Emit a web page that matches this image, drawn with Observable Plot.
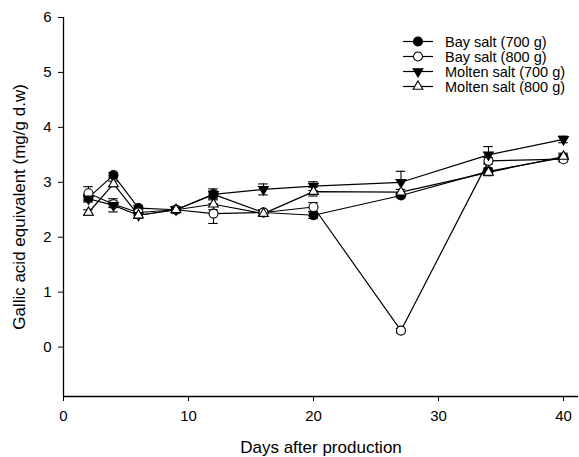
<!DOCTYPE html>
<html><head><meta charset="utf-8">
<script src="https://cdn.jsdelivr.net/npm/d3@7"></script>
<script src="https://cdn.jsdelivr.net/npm/@observablehq/plot@0.6"></script>
<style>
body{margin:0;background:#fff;}
#wrap{position:relative;width:579px;height:457px;font-family:"Liberation Sans",Arial,sans-serif;}
#legend{position:absolute;left:403px;top:34px;font-size:14.5px;color:#000;}
.row{display:flex;align-items:center;height:15px;white-space:nowrap;}
.row svg{margin-right:12px;flex:none;}
g[aria-label="x-axis label"] text, g[aria-label="y-axis label"] text{font-size:17px;}
</style></head><body><div id="wrap"><div id="legend"></div></div>
<script>
const days = [2, 4, 6, 9, 12, 16, 20, 27, 34, 40];
const seriesNames = ["Bay salt (700 g)", "Bay salt (800 g)", "Molten salt (700 g)", "Molten salt (800 g)"];
const bay700 = [2.72, 3.13, 2.53, 2.50, 2.78, 2.45, 2.40, 2.76, 3.20, 3.45];
const bay800 = [2.80, 2.60, 2.45, 2.50, 2.43, 2.45, 2.55, 0.30, 3.39, 3.42];
const molten700 = [2.70, 2.58, 2.40, 2.50, 2.78, 2.87, 2.93, 3.00, 3.50, 3.78];
const molten800 = [2.45, 2.97, 2.40, 2.50, 2.60, 2.43, 2.83, 2.82, 3.18, 3.47];
const bay700Err = [0.06, 0.05, 0.05, 0.05, 0.06, 0.05, 0.06, 0.04, 0.06, 0.05];
const bay800Err = [0.12, 0.06, 0.05, 0.05, 0.18, 0.05, 0.08, 0.04, 0.06, 0.05];
const molten700Err = [0.06, 0.12, 0.05, 0.06, 0.10, 0.10, 0.08, 0.20, 0.15, 0.06];
const molten800Err = [0.05, 0.05, 0.05, 0.05, 0.10, 0.05, 0.08, 0.05, 0.06, 0.06];
const xTicks = [0, 10, 20, 30, 40];
const yTicks = [0, 1, 2, 3, 4, 5, 6];
const xDomain = [0, 41.2];
const yDomain = [-0.9, 6];

const values = [bay700, bay800, molten700, molten800];
const errs = [bay700Err, bay800Err, molten700Err, molten800Err];
const styles = [
  {symbol: "circle", fill: "black", r: 4.5, rotate: 0},
  {symbol: "circle", fill: "white", r: 4.5, rotate: 0},
  {symbol: "triangle", fill: "black", r: 3.6, rotate: 180},
  {symbol: "triangle", fill: "white", r: 3.6, rotate: 0}
];
const data = [];
seriesNames.forEach((s, i) => days.forEach((d, j) => data.push({series: s, idx: i, day: d, value: values[i][j], err: errs[i][j]})));

const dotMarks = styles.map((st, i) => Plot.dot(data.filter(d => d.idx === i), {
  x: "day", y: "value", symbol: st.symbol, r: st.r, rotate: st.rotate,
  fill: st.fill, stroke: "black", strokeWidth: 1.1
}));

const chart = Plot.plot({
  width: 579, height: 457,
  marginLeft: 63, marginRight: 1, marginTop: 17, marginBottom: 61,
  style: {fontFamily: "Liberation Sans, Arial, sans-serif", fontSize: "15px", color: "#000", background: "white"},
  x: {domain: xDomain, label: null},
  y: {domain: yDomain, label: null},
  marks: [
    Plot.axisX({ticks: xTicks, tickFormat: "d", tickSize: 5, tickPadding: 9, label: "Days after production", labelArrow: "none", labelAnchor: "center", labelOffset: 56}),
    Plot.axisY({ticks: yTicks, tickFormat: "d", tickSize: 5, tickPadding: 7, label: "Gallic acid equivalent (mg/g d.w)", labelArrow: "none", labelAnchor: "center", labelOffset: 51}),
    Plot.ruleX([xDomain[0]], {stroke: "black", strokeWidth: 1.3}),
    Plot.ruleY([yDomain[0]], {stroke: "black", strokeWidth: 1.3}),
    Plot.line(data, {x: "day", y: "value", z: "series", stroke: "black", strokeWidth: 1.2}),
    Plot.ruleX(data, {x: "day", y1: d => d.value - d.err, y2: d => d.value + d.err, stroke: "black", strokeWidth: 1.1}),
    Plot.ruleY(data, {y: d => d.value - d.err, x1: d => d.day - 0.38, x2: d => d.day + 0.38, stroke: "black", strokeWidth: 1.1}),
    Plot.ruleY(data, {y: d => d.value + d.err, x1: d => d.day - 0.38, x2: d => d.day + 0.38, stroke: "black", strokeWidth: 1.1}),
    ...dotMarks
  ]
});
document.getElementById("wrap").prepend(chart);

const legend = document.getElementById("legend");
seriesNames.forEach((s, i) => {
  const st = styles[i];
  const row = document.createElement("div");
  row.className = "row";
  const svg = d3.create("svg").attr("width", 30).attr("height", 15);
  svg.append("line").attr("x1", 0).attr("x2", 30).attr("y1", 7.5).attr("y2", 7.5).attr("stroke", "black").attr("stroke-width", 1.2);
  const type = st.symbol === "circle" ? d3.symbolCircle : d3.symbolTriangle;
  svg.append("path").attr("d", d3.symbol(type, Math.PI * st.r * st.r)())
    .attr("transform", `translate(15,7.5) rotate(${st.rotate})`)
    .attr("fill", st.fill).attr("stroke", "black").attr("stroke-width", 1.1);
  row.appendChild(svg.node());
  const t = document.createElement("span");
  t.textContent = s;
  row.appendChild(t);
  legend.appendChild(row);
});
</script>
</body></html>
